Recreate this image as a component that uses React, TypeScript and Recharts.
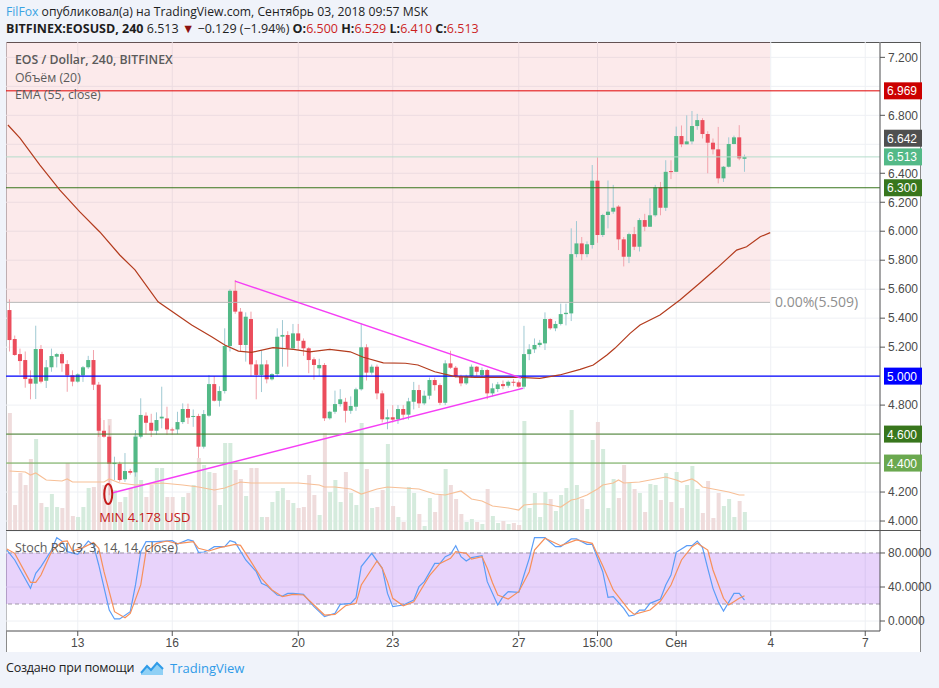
import React from 'react';
import {
  ComposedChart,
  Bar,
  Line,
  XAxis,
  YAxis,
  CartesianGrid,
  ReferenceLine,
  ReferenceArea,
  ReferenceDot,
} from 'recharts';

// EOSUSD 240 (4h) candles, index 0 = first visible bar
const opens = [
  5.456, 5.256, 5.152, 5.111, 4.982, 4.948, 5.187, 4.968, 5.061, 5.134,
  5.152, 5.083, 5.005, 4.962, 5.005, 5.061, 5.111, 4.941, 4.623, 4.582,
  4.393, 4.395, 4.288, 4.345, 4.336, 4.582, 4.727, 4.678, 4.623, 4.708,
  4.708, 4.632, 4.632, 4.683, 4.773, 4.718, 4.725, 4.513, 4.727, 4.945,
  4.83, 4.897, 5.208, 5.589, 5.445, 5.215, 5.394, 5.081, 5.008, 5.081,
  4.978, 5.014, 5.272, 5.284, 5.192, 5.295, 5.244, 5.192, 5.116, 5.054,
  5.077, 4.709, 4.754, 4.807, 4.823, 4.761, 4.789, 4.909, 5.199, 5.024,
  5.065, 4.881, 4.702, 4.716, 4.702, 4.773, 4.734, 4.823, 4.904, 4.812,
  4.865, 4.973, 4.938, 4.816, 5.088, 5.058, 5.0, 4.95, 5.0, 5.065,
  5.008, 5.042, 4.881, 4.911, 4.945, 4.934, 4.961, 4.957, 4.927, 5.152,
  5.185, 5.215, 5.226, 5.394, 5.33, 5.36, 5.428, 5.433, 5.842, 5.916,
  5.842, 5.905, 6.349, 5.974, 6.112, 6.135, 6.17, 5.944, 5.824, 5.98,
  5.893, 6.077, 6.031, 6.11, 6.303, 6.162, 6.415, 6.41, 6.657, 6.6,
  6.62, 6.726, 6.767, 6.671, 6.611, 6.565, 6.365, 6.445, 6.602, 6.648,
  6.5,
];
const highs = [
  5.53, 5.28, 5.19, 5.17, 5.04, 5.348, 5.215, 5.111, 5.19, 5.16,
  5.168, 5.11, 5.04, 5.02, 5.07, 5.14, 5.18, 4.96, 4.697, 4.66,
  4.444, 4.41, 4.469, 4.36, 4.628, 4.847, 4.75, 4.74, 4.75, 4.927,
  4.789, 4.645, 4.754, 4.812, 4.81, 4.77, 4.74, 4.766, 5.008, 5.0,
  4.93, 5.33, 5.6, 5.663, 5.47, 5.44, 5.445, 5.11, 5.18, 5.11,
  5.02, 5.33, 5.387, 5.31, 5.36, 5.36, 5.26, 5.2, 5.13, 5.12,
  5.09, 4.76, 4.9, 4.91, 4.85, 4.86, 4.92, 5.364, 5.22, 5.08,
  5.08, 4.9, 4.77, 4.8, 4.8, 4.8, 4.85, 4.96, 4.94, 4.9,
  4.99, 4.99, 4.95, 5.11, 5.175, 5.07, 5.01, 5.01, 5.08, 5.07,
  5.06, 5.05, 4.95, 4.96, 4.97, 4.97, 4.98, 4.97, 5.347, 5.22,
  5.26, 5.25, 5.44, 5.4, 5.38, 5.5, 5.5, 6.02, 6.07, 5.96,
  5.93, 6.457, 6.51, 6.12, 6.35, 6.32, 6.18, 5.96, 5.99, 6.03,
  6.09, 6.12, 6.227, 6.32, 6.34, 6.49, 6.49, 6.722, 6.73, 6.8,
  6.83, 6.81, 6.78, 6.69, 6.64, 6.72, 6.45, 6.648, 6.66, 6.732,
  6.529,
];
const lows = [
  5.17, 5.14, 5.01, 4.92, 4.84, 4.842, 4.95, 4.918, 5.03, 5.06,
  5.03, 4.892, 4.93, 4.955, 4.96, 5.05, 4.904, 4.58, 4.575, 4.178,
  4.283, 4.271, 4.27, 4.32, 4.306, 4.57, 4.6, 4.58, 4.595, 4.64,
  4.595, 4.595, 4.6, 4.67, 4.67, 4.65, 4.435, 4.5, 4.72, 4.825,
  4.79, 4.88, 5.17, 5.43, 5.17, 5.1, 5.0, 4.84, 4.89, 4.95,
  4.97, 5.0, 5.065, 5.065, 5.18, 5.18, 5.14, 5.02, 4.975, 5.0,
  4.69, 4.7, 4.74, 4.79, 4.68, 4.74, 4.76, 4.9, 4.97, 5.01,
  4.84, 4.68, 4.633, 4.68, 4.67, 4.7, 4.7, 4.77, 4.78, 4.8,
  4.84, 4.9, 4.8, 4.8, 5.05, 4.99, 4.93, 4.94, 4.99, 5.0,
  4.99, 4.84, 4.86, 4.89, 4.91, 4.92, 4.93, 4.92, 4.91, 5.11,
  5.16, 5.2, 5.18, 5.32, 5.31, 5.35, 5.35, 5.38, 5.82, 5.8,
  5.82, 5.88, 5.92, 5.96, 6.02, 6.12, 5.87, 5.757, 5.78, 5.87,
  5.86, 6.0, 6.03, 6.1, 6.11, 6.14, 6.36, 6.41, 6.58, 6.6,
  6.6, 6.7, 6.64, 6.4, 6.53, 6.33, 6.34, 6.44, 6.6, 6.49,
  6.41,
];
const closes = [
  5.249, 5.146, 5.104, 4.98, 4.948, 5.187, 4.962, 5.061, 5.139, 5.152,
  5.088, 5.005, 4.962, 5.012, 5.061, 5.111, 4.941, 4.623, 4.582, 4.395,
  4.402, 4.283, 4.345, 4.333, 4.582, 4.732, 4.678, 4.623, 4.697, 4.72,
  4.632, 4.628, 4.683, 4.773, 4.713, 4.725, 4.513, 4.738, 4.945, 4.83,
  4.897, 5.208, 5.589, 5.445, 5.215, 5.41, 5.081, 5.008, 5.081, 4.978,
  5.014, 5.272, 5.284, 5.192, 5.295, 5.244, 5.192, 5.111, 5.077, 5.077,
  4.709, 4.754, 4.807, 4.84, 4.761, 4.794, 4.909, 5.199, 5.024, 5.065,
  4.881, 4.702, 4.716, 4.7, 4.773, 4.734, 4.826, 4.904, 4.812, 4.865,
  4.973, 4.938, 4.816, 5.088, 5.058, 5.0, 4.95, 5.0, 5.065, 5.03,
  5.042, 4.881, 4.916, 4.943, 4.931, 4.961, 4.955, 4.927, 5.152, 5.185,
  5.215, 5.23, 5.394, 5.33, 5.36, 5.428, 5.437, 5.842, 5.916, 5.842,
  5.91, 6.349, 5.974, 6.112, 6.135, 6.162, 5.944, 5.824, 5.98, 5.893,
  6.077, 6.031, 6.11, 6.303, 6.162, 6.41, 6.408, 6.657, 6.6, 6.62,
  6.726, 6.767, 6.671, 6.611, 6.565, 6.365, 6.445, 6.602, 6.648, 6.503,
  6.513,
];
// volume, relative units
const volumes = [
  117, 25, 57, 45, 71, 91, 27, 23, 36, 23,
  22, 67, 14, 13, 23, 42, 43, 112, 45, 111,
  40, 28, 33, 42, 97, 50, 33, 45, 62, 62,
  33, 33, 13, 33, 37, 45, 72, 65, 58, 57,
  25, 87, 87, 60, 51, 34, 62, 62, 13, 13,
  28, 39, 42, 30, 27, 22, 23, 55, 35, 15,
  97, 38, 50, 28, 58, 37, 25, 107, 61, 22,
  23, 40, 86, 24, 13, 8, 43, 37, 16, 4,
  32, 18, 35, 61, 45, 31, 16, 8, 11, 8,
  6, 41, 14, 7, 9, 6, 7, 5, 109, 22,
  37, 13, 38, 31, 19, 35, 42, 120, 45, 31,
  21, 90, 108, 81, 22, 51, 32, 65, 47, 41,
  37, 18, 46, 45, 30, 57, 28, 58, 22, 45,
  64, 41, 17, 49, 12, 37, 24, 31, 13, 29,
  18,
];

// [bar index, value]
const emaPoints: [number, number][] = [
  [-0.3, 6.733], [2, 6.643], [5.8, 6.457], [9.6, 6.284], [13.4, 6.133], [17.2, 5.995],
  [21, 5.836], [23.9, 5.733], [28.3, 5.513], [34.7, 5.353], [38.5, 5.272], [41, 5.215],
  [43.6, 5.173], [46.1, 5.164], [50.2, 5.196], [54.1, 5.185], [57.2, 5.168], [61, 5.185],
  [64.9, 5.168], [67.4, 5.13], [71.2, 5.092], [75.4, 5.089], [77.8, 5.077], [81, 5.03],
  [84.9, 4.996], [88.7, 4.992], [93.8, 4.992], [97.2, 4.992], [101, 4.985], [104.8, 5.008],
  [108.7, 5.047], [111.2, 5.077], [113.8, 5.146], [115.3, 5.192], [118.2, 5.295], [120.1, 5.353],
  [123.9, 5.422], [127.7, 5.525], [131.5, 5.643], [134.7, 5.744], [138.5, 5.87], [140.4, 5.893],
  [143, 5.962], [144.9, 5.99],
];
const volMaPoints: [number, number][] = [
  [0, 59], [3, 58], [4, 55], [5, 57], [7, 50], [10, 49], [11, 51], [12, 48], [18, 48], [19, 51],
  [21, 47], [24, 45], [27, 46], [29, 47], [33, 45], [36, 43], [39, 40], [41, 42], [44, 48], [46, 47],
  [50, 47], [55, 47], [59, 45], [60, 43], [62, 43], [65, 41], [67, 36], [70, 41], [72, 43], [75, 42],
  [78, 41], [81, 36], [83, 35], [86, 39], [88, 31], [90, 29], [92, 24], [95, 22], [97, 20], [98, 25],
  [100, 26], [102, 26], [104, 24], [105, 23], [107, 30], [108, 31], [110, 35], [112, 41], [113, 45],
  [115, 47], [116, 50], [117, 47], [120, 48], [122, 50], [125, 53], [127, 50], [128, 48], [130, 51],
  [131, 48], [132, 43], [134, 41], [135, 40], [137, 38], [139, 35], [140, 35],
];
const stochK: [number, number][] = [
  [-0.5, 83.5], [1, 71.8], [4, 38.4], [5, 56], [6, 64], [8, 83.5], [9, 98], [10, 94], [11, 81.6],
  [13, 78.4], [15, 94], [16, 89.4], [17, 65.9], [19, 12.9], [20, 2.4], [21, 2.4], [23, 11], [24, 42.4],
  [25, 81.6], [26, 93.3], [28, 93.3], [31, 94.5], [32, 90.6], [34, 95.7], [35, 94], [36, 80.8],
  [37, 81.2], [38, 83.5], [39, 87.5], [41, 87.5], [42, 94.5], [43, 92.5], [45, 71.8], [47, 58],
  [48, 44.3], [49, 41.6], [51, 30.6], [52, 29.4], [53, 32.5], [54, 32.5], [56, 31.4], [58, 16.9],
  [60, 5.1], [62, 9], [63, 19.6], [65, 20.8], [66, 27.5], [67, 64], [69, 79.6], [71, 62], [72, 32.5],
  [73, 16.9], [75, 18.8], [77, 24.7], [78, 40.4], [79, 46.3], [81, 67.8], [82, 67.8], [83, 75.7],
  [84, 78.4], [85, 88.6], [86, 75.7], [87, 70.6], [88, 74.5], [90, 76.8], [91, 46.3], [93, 18.8],
  [94, 28.6], [95, 34.5], [97, 33.7], [98, 54.1], [99, 73.7], [100, 98], [102, 98], [104, 87.5],
  [105, 87.5], [107, 96.5], [108, 96.5], [110, 90.2], [111, 90.2], [113, 58], [114, 27.8], [115, 28.6],
  [117, 14.9], [118, 5.9], [119, 7], [120, 12.9], [121, 12.9], [122, 20.8], [124, 25.9], [125, 42.4],
  [126, 54.1], [127, 80.8], [129, 88.6], [130, 88.6], [131, 94.1], [132, 86.3], [133, 62], [134, 38.4],
  [135, 22.7], [136, 11.8], [138, 32.5], [139, 32.5], [140, 24.7],
];
const stochD: [number, number][] = [
  [-0.5, 84.7], [1, 79.6], [4, 45.5], [5, 45.5], [6, 54.1], [8, 81.6], [10, 93.3], [11, 94.1],
  [12, 82.4], [14, 86.3], [16, 92.5], [17, 85.5], [18, 58], [20, 11], [22, 3.9], [23, 9], [25, 42.4],
  [26, 81.6], [28, 91.4], [30, 94.1], [32, 91], [35, 93.3], [36, 85.5], [38, 82.4], [40, 86.3],
  [43, 90.2], [44, 89], [46, 69.8], [48, 50.2], [50, 36.5], [52, 28.6], [54, 31.4], [56, 30.6],
  [58, 18.8], [60, 7], [62, 7.8], [64, 18], [66, 20.8], [67, 42.4], [70, 70.6], [71, 62], [72, 46.3],
  [73, 26.7], [75, 18], [77, 22.7], [78, 33], [80, 53.3], [82, 67.8], [84, 73.7], [85, 81.6],
  [87, 79.6], [88, 72.9], [90, 75.7], [91, 62], [92, 45], [93, 30.6], [95, 25.9], [97, 34.5],
  [99, 58], [100, 83.5], [102, 97.3], [105, 88.6], [108, 95.3], [111, 91.4], [113, 65], [115, 36.5],
  [118, 12.9], [119, 7.8], [122, 12.9], [124, 23.5], [126, 42.4], [128, 71.8], [130, 87.5],
  [131, 91.4], [133, 83.5], [134, 60], [136, 26.7], [137, 18.8], [139, 26.7], [140, 29.8],
];

const timeTicks = [13, 31, 55, 73, 97, 112, 127, 145, 163];
const timeLabels = ['13', '16', '20', '23', '27', '15:00', 'Сен', '4', '7'];
// labelled price ticks (the rest sit under the level badges)
const priceTicks = [4.0, 4.2, 4.8, 5.2, 5.4, 5.6, 5.8, 6.0, 6.2, 6.4, 6.8, 7.2];
const priceGrid = [4.0, 4.2, 4.4, 4.6, 4.8, 5.0, 5.2, 5.4, 5.6, 5.8, 6.0, 6.2, 6.4, 6.6, 6.8, 7.0, 7.2];
const stochTicks = [0, 40, 80];

const levelPrices = [6.969, 6.3, 5.0, 4.6, 4.4];
const levelColors = ['#e00000', '#38761d', '#0000ff', '#3f7a24', '#6aa84f'];
const badgeColors = ['#cc0000', '#38761d', '#0000ff', '#38761d', '#6aa84f'];
const lastPrice = 6.513;
const prevPrice = 6.642;
const fibLevel = 5.509;
const fibEnd = 144.86;
const minBar = 19;
const minPrice = 4.178;
const triUpper = [{ x: 42.95, y: 5.656 }, { x: 97.43, y: 4.987 }];
const triLower = [{ x: 19.5, y: 4.193 }, { x: 97.8, y: 4.916 }];

// axis windows
const X0 = -0.667;
const X1 = 165.81;
const P0 = 3.938;
const P1 = 7.306;

const candles = opens.map((o, i) => ({ i, o, h: highs[i], l: lows[i], c: closes[i], v: volumes[i] }));
const pts = (a: [number, number][]) => a.map(([i, v]) => ({ i, v }));

const UP = '#53b987';
const DOWN = '#eb4d5c';
const TICK = { fontSize: 12, fill: '#4a4a4a', fontFamily: '"Liberation Sans", Arial, sans-serif' };
const BODY_W = 4;

const CandleShape = (props: any) => {
  const { x, y, width, height, payload } = props;
  if (!payload || !Number.isFinite(x) || !Number.isFinite(y)) return null;
  const top = Math.min(y, y + height);
  const span = Math.abs(height);
  const { o, h, l, c } = payload;
  const yOf = (p: number) => (h === l ? top : top + ((h - p) / (h - l)) * span);
  const up = c >= o;
  const cx = x + (width || 0) / 2;
  const b1 = yOf(Math.max(o, c));
  const b2 = yOf(Math.min(o, c));
  return (
    <g>
      <line x1={cx} x2={cx} y1={top} y2={top + span} stroke={up ? '#9fc9d3' : '#f2a2ab'} strokeWidth={1} />
      <rect x={cx - BODY_W / 2} y={b1} width={BODY_W} height={Math.max(1, b2 - b1)} fill={up ? UP : DOWN} />
    </g>
  );
};

const VolumeShape = (props: any) => {
  const { x, y, width, height, payload } = props;
  if (!payload || !Number.isFinite(x)) return null;
  const cx = x + (width || 0) / 2;
  return (
    <rect x={cx - BODY_W / 2} y={y} width={BODY_W} height={Math.max(0, height)} fill={payload.c >= payload.o ? '#d5ebdd' : '#efdcdc'} />
  );
};

const badge = (text: string, bg: string) => (p: any) => (
  <g>
    <rect x={p.cx + 4} y={p.cy - 8.5} width={38} height={17} fill={bg} />
    <text x={p.cx + 7} y={p.cy + 4.5} fill="#ffffff" fontSize={12} fontFamily='"Liberation Sans", Arial, sans-serif'>
      {text}
    </text>
  </g>
);

const MinMarker = (p: any) => (
  <g>
    <ellipse cx={p.cx - 1} cy={p.cy} rx={4} ry={10} fill="none" stroke="#c41a1a" strokeWidth={2} />
    <text x={p.cx - 10} y={p.cy + 28} fill="#c41a1a" fontSize={13} fontFamily='"Open Sans", sans-serif'>
      MIN {minPrice.toFixed(3)} USD
    </text>
  </g>
);

const FibLabel = (p: any) => (
  <text x={p.cx + 5} y={p.cy + 5} fill="#8f8f8f" fontSize={14} fontFamily='"Open Sans", sans-serif'>
    {`0.00%(${fibLevel.toFixed(3)})`}
  </text>
);

const Logo = () => (
  <svg width={24} height={16} viewBox="0 0 24 16" style={{ position: 'absolute', left: 140, top: 660 }}>
    <path d="M1 13 L7 6 L11 10 L17 3 L23 9 L23 15 L1 15 Z" fill="#8fd0f5" />
    <path d="M1 13 L7 6 L11 10 L17 3 L23 9" fill="none" stroke="#2f9be8" strokeWidth={2} />
  </svg>
);

export default function App() {
  return (
    <div
      style={{
        position: 'absolute',
        left: 0,
        top: 0,
        width: 939,
        height: 688,
        background: '#f0f3fa',
        overflow: 'hidden',
        fontFamily: '"Open Sans", sans-serif',
        color: '#1e1e1e',
      }}
    >
      {/* header */}
      <div style={{ position: 'absolute', left: 6, top: 3, fontSize: 12.2, lineHeight: '18px', whiteSpace: 'nowrap' }}>
        <span style={{ color: '#3aa3e3' }}>FilFox</span> опубликовал(а) на TradingView.com, Сентябрь 03, 2018 09:57 MSK
      </div>
      <div style={{ position: 'absolute', left: 6, top: 20, fontSize: 12.5, lineHeight: '18px', whiteSpace: 'nowrap' }}>
        <b>BITFINEX:EOSUSD, 240</b> 6.513 <span style={{ color: '#8b1111' }}>▼</span> −0.129 (−1.94%) <b>O:</b>
        <span style={{ color: '#cc1f1f' }}>6.500</span> <b>H:</b>
        <span style={{ color: '#cc1f1f' }}>6.529</span> <b>L:</b>
        <span style={{ color: '#cc1f1f' }}>6.410</span> <b>C:</b>
        <span style={{ color: '#cc1f1f' }}>6.513</span>
      </div>

      {/* frame */}
      <div
        style={{
          position: 'absolute',
          left: 6,
          top: 42,
          width: 915,
          height: 610,
          background: '#ffffff',
          boxSizing: 'border-box',
          borderTop: '1px solid #555',
          borderLeft: '1px solid #8a8a8a',
          borderRight: '1px solid #8a8a8a',
        }}
      />

      {/* price pane */}
      <div style={{ position: 'absolute', left: 6, top: 42 }}>
        <ComposedChart width={933} height={488} data={candles} margin={{ top: 0, right: 0, bottom: 0, left: 0 }}>
          <CartesianGrid stroke="#eef0f4" horizontalValues={priceGrid} />
          <XAxis dataKey="i" type="number" domain={[X0, X1]} ticks={timeTicks} allowDataOverflow hide />
          <XAxis xAxisId="v" dataKey="i" type="number" domain={[X0, X1]} allowDataOverflow hide />
          <YAxis
            type="number"
            orientation="right"
            domain={[P0, P1]}
            ticks={priceTicks}
            interval={0}
            allowDataOverflow
            width={59}
            tickFormatter={(v: number) => v.toFixed(3)}
            stroke="#555"
            tickSize={5}
            tickMargin={3}
            tick={TICK}
          />
          <YAxis yAxisId="vol" type="number" domain={[0, 488]} allowDataOverflow hide />
          <ReferenceArea x1={X0} x2={fibEnd} y1={fibLevel} y2={P1} fill="#e0303f" fillOpacity={0.1} stroke="none" ifOverflow="visible" />
          <Bar xAxisId="v" yAxisId="vol" dataKey="v" barSize={4} shape={VolumeShape} isAnimationActive={false} />
          <Line
            xAxisId="v"
            yAxisId="vol"
            data={pts(volMaPoints)}
            dataKey="v"
            stroke="#f7bf96"
            strokeWidth={1.2}
            dot={false}
            isAnimationActive={false}
          />
          {levelPrices.map((p, k) => (
            <ReferenceLine key={p} y={p} stroke={levelColors[k]} strokeWidth={k === 2 ? 1.3 : 1} />
          ))}
          <ReferenceLine y={lastPrice} stroke="#b4dccb" />
          <ReferenceLine segment={[{ x: X0, y: fibLevel }, { x: fibEnd, y: fibLevel }]} stroke="#b8b8b8" />
          <Line data={pts(emaPoints)} dataKey="v" stroke="#b33b1d" strokeWidth={1.2} dot={false} isAnimationActive={false} />
          <ReferenceLine segment={triUpper} stroke="#f53ef5" strokeWidth={1.4} />
          <ReferenceLine segment={triLower} stroke="#f53ef5" strokeWidth={1.4} />
          <Bar dataKey={(d: any) => [d.l, d.h]} barSize={4} shape={CandleShape} isAnimationActive={false} />
          <ReferenceDot x={minBar} y={minPrice + 0.008} r={0} shape={MinMarker} ifOverflow="visible" />
          <ReferenceDot x={fibEnd} y={fibLevel} r={0} shape={FibLabel} ifOverflow="visible" />
          {levelPrices.map((p, k) => (
            <ReferenceDot key={'b' + p} x={X1} y={p} r={0} shape={badge(p.toFixed(3), badgeColors[k])} ifOverflow="visible" />
          ))}
          <ReferenceDot x={X1} y={prevPrice} r={0} shape={badge(prevPrice.toFixed(3), '#4f4f4f')} ifOverflow="visible" />
          <ReferenceDot x={X1} y={lastPrice} r={0} shape={badge(lastPrice.toFixed(3), UP)} ifOverflow="visible" />
        </ComposedChart>
      </div>

      {/* pane legends */}
      <div style={{ position: 'absolute', left: 15, top: 51, fontSize: 12.3, lineHeight: '17.5px', color: '#5a5a5a' }}>
        <div style={{ fontWeight: 600 }}>EOS / Dollar, 240, BITFINEX</div>
        <div>Объём (20)</div>
        <div>EMA (55, close)</div>
      </div>

      {/* pane separator */}
      <div style={{ position: 'absolute', left: 6, top: 530, width: 915, height: 1, background: '#555' }} />

      {/* stoch rsi pane */}
      <div style={{ position: 'absolute', left: 6, top: 531 }}>
        <ComposedChart width={933} height={121} margin={{ top: 0, right: 0, bottom: 0, left: 0 }}>
          <CartesianGrid stroke="#eef0f4" />
          <XAxis
            dataKey="i"
            type="number"
            domain={[X0, X1]}
            ticks={timeTicks}
            interval={0}
            allowDataOverflow
            height={21}
            tickFormatter={(v: number) => timeLabels[timeTicks.indexOf(v)]}
            stroke="#555"
            tickSize={5}
            tickMargin={2}
            tick={TICK}
          />
          <YAxis
            type="number"
            orientation="right"
            domain={[-11.76, 105.88]}
            ticks={stochTicks}
            interval={0}
            allowDataOverflow
            width={59}
            tickFormatter={(v: number) => v.toFixed(4)}
            stroke="#555"
            tickSize={5}
            tickMargin={3}
            tick={TICK}
          />
          <ReferenceArea x1={X0} x2={X1} y1={20} y2={80} fill="#8e24ea" fillOpacity={0.2} stroke="none" />
          <ReferenceLine y={80} stroke="#a097a8" strokeDasharray="4 3" />
          <ReferenceLine y={20} stroke="#a097a8" strokeDasharray="4 3" />
          <Line data={pts(stochK)} dataKey="v" stroke="#5b9df7" strokeWidth={1.2} dot={false} isAnimationActive={false} />
          <Line data={pts(stochD)} dataKey="v" stroke="#f7905a" strokeWidth={1.2} dot={false} isAnimationActive={false} />
        </ComposedChart>
      </div>
      <div style={{ position: 'absolute', left: 15, top: 539, fontSize: 12.5, lineHeight: '18px', color: '#5a5a5a' }}>
        Stoch RSI (3, 3, 14, 14, close)
      </div>

      {/* footer */}
      <div style={{ position: 'absolute', left: 6, top: 659, fontSize: 12.5, letterSpacing: -0.2, lineHeight: '18px', color: '#222' }}>
        Создано при помощи
      </div>
      <Logo />
      <div style={{ position: 'absolute', left: 170, top: 659, fontSize: 13, lineHeight: '18px', color: '#2f9be8' }}>
        TradingView
      </div>
    </div>
  );
}
